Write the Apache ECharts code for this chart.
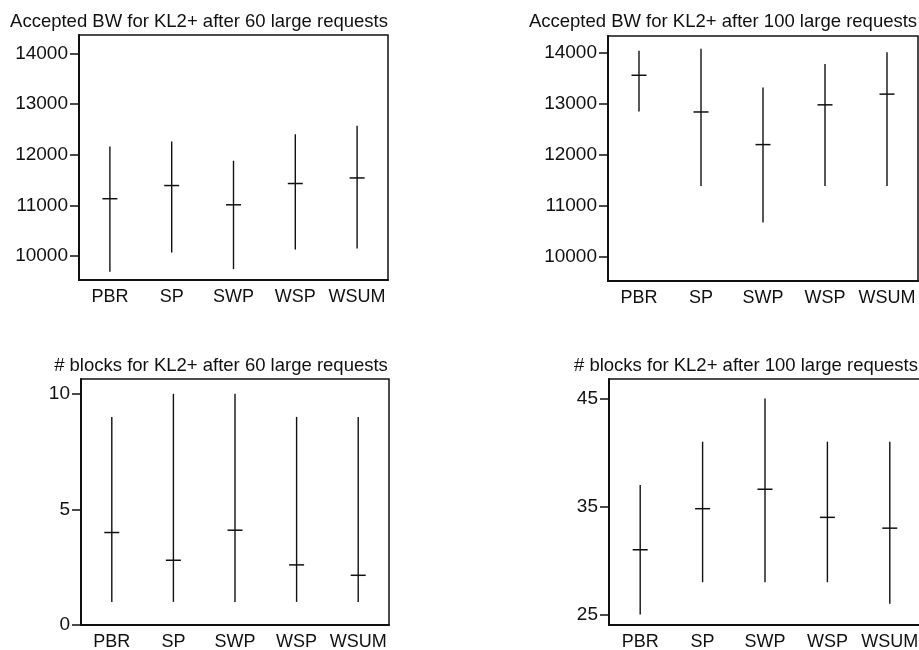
<!DOCTYPE html>
<html>
<head>
<meta charset="utf-8">
<script src="https://cdn.jsdelivr.net/npm/echarts@6/dist/echarts.min.js"></script>
<style>
  html, body { margin: 0; padding: 0; background: #fff; }
  #chart { width: 919px; height: 650px; }
</style>
</head>
<body>
<div id="chart"></div>
<script>
const categories = ['PBR', 'SP', 'SWP', 'WSP', 'WSUM'];

// Accepted BW after 60 large requests
const bw60Low = [9690, 10070, 9740, 10130, 10150];
const bw60Mean = [11130, 11390, 11010, 11430, 11540];
const bw60High = [12160, 12260, 11880, 12400, 12570];

// Accepted BW after 100 large requests
const bw100Low = [12840, 11380, 10660, 11380, 11380];
const bw100Mean = [13550, 12830, 12190, 12970, 13180];
const bw100High = [14030, 14070, 13310, 13770, 14000];

// # blocks after 60 large requests
const blk60Low = [1, 1, 1, 1, 1];
const blk60Mean = [4.0, 2.8, 4.1, 2.6, 2.15];
const blk60High = [9, 10, 10, 9, 9];

// # blocks after 100 large requests
const blk100Low = [25, 28, 28, 28, 26];
const blk100Mean = [31.0, 34.8, 36.6, 34.0, 33.0];
const blk100High = [37, 41, 45, 41, 41];

const bwTicks = [10000, 11000, 12000, 13000, 14000];
const blk60Ticks = [0, 5, 10];
const blk100Ticks = [25, 35, 45];

const FONT = '"Liberation Sans", Arial, Helvetica, sans-serif';
const INK = '#111';

function toRows(low, mean, high) {
    return categories.map((c, i) => [i, low[i], mean[i], high[i]]);
}

// vertical range line + short horizontal mark at the mean
function renderErr(params, api) {
    const x = api.value(0);
    const lo = api.coord([x, api.value(1)]);
    const mid = api.coord([x, api.value(2)]);
    const hi = api.coord([x, api.value(3)]);
    return {
        type: 'group',
        children: [
            { type: 'line', shape: { x1: lo[0], y1: lo[1], x2: hi[0], y2: hi[1] },
              style: { stroke: INK, lineWidth: 1.4 } },
            { type: 'line', shape: { x1: mid[0] - 7.5, y1: mid[1], x2: mid[0] + 7.5, y2: mid[1] },
              style: { stroke: INK, lineWidth: 1.5 } }
        ]
    };
}

const panels = [
    { title: 'Accepted BW for KL2+ after 60 large requests', tx: 199, ty: 12,
      grid: { left: 79, top: 35, width: 309, height: 245 },
      min: 9526, max: 14361, ticks: bwTicks, data: toRows(bw60Low, bw60Mean, bw60High) },
    { title: 'Accepted BW for KL2+ after 100 large requests', tx: 723, ty: 12,
      grid: { left: 608, top: 36, width: 310, height: 245 },
      min: 9515, max: 14320, ticks: bwTicks, data: toRows(bw100Low, bw100Mean, bw100High) },
    { title: '# blocks for KL2+ after 60 large requests', tx: 221, ty: 356,
      grid: { left: 81, top: 379, width: 308, height: 246 },
      min: 0, max: 10.64, ticks: blk60Ticks, data: toRows(blk60Low, blk60Mean, blk60High) },
    { title: '# blocks for KL2+ after 100 large requests', tx: 746, ty: 356,
      grid: { left: 609, top: 379, width: 312, height: 246 },
      min: 24.04, max: 46.8, ticks: blk100Ticks, data: toRows(blk100Low, blk100Mean, blk100High) }
];

const option = {
    backgroundColor: '#fff',
    animation: false,
    title: panels.map(p => ({
        text: p.title,
        left: p.tx,
        top: p.ty,
        padding: 0,
        textAlign: 'center',
        textStyle: { fontFamily: FONT, fontSize: 18.5, fontWeight: 'normal', color: INK }
    })),
    grid: panels.map(p => Object.assign({
        show: true,
        borderColor: INK,
        borderWidth: 1.5,
        containLabel: false,
        outerBoundsMode: 'none'
    }, p.grid)),
    xAxis: panels.map((p, i) => ({
        type: 'category',
        gridIndex: i,
        data: categories,
        boundaryGap: true,
        axisLine: { show: true, lineStyle: { color: INK, width: 2 } },
        axisTick: { show: false },
        axisLabel: { fontFamily: FONT, fontSize: 18, color: INK, margin: 8, interval: 0, hideOverlap: false },
        splitLine: { show: false }
    })),
    yAxis: panels.map((p, i) => ({
        type: 'value',
        gridIndex: i,
        min: p.min,
        max: p.max,
        axisLine: { show: true, lineStyle: { color: INK, width: 2 } },
        axisTick: { show: true, length: 9, lineStyle: { color: INK, width: 1.5 }, customValues: p.ticks },
        axisLabel: {
            fontFamily: FONT, fontSize: 19, color: INK, margin: 11, customValues: p.ticks,
            formatter: v => String(v)
        },
        splitLine: { show: false }
    })),
    series: panels.map((p, i) => ({
        type: 'custom',
        xAxisIndex: i,
        yAxisIndex: i,
        renderItem: renderErr,
        encode: { x: 0, y: [1, 2, 3] },
        data: p.data
    }))
};

const myChart = echarts.init(document.getElementById('chart'));
myChart.setOption(option);
window.addEventListener('resize', myChart.resize);
</script>
</body>
</html>
